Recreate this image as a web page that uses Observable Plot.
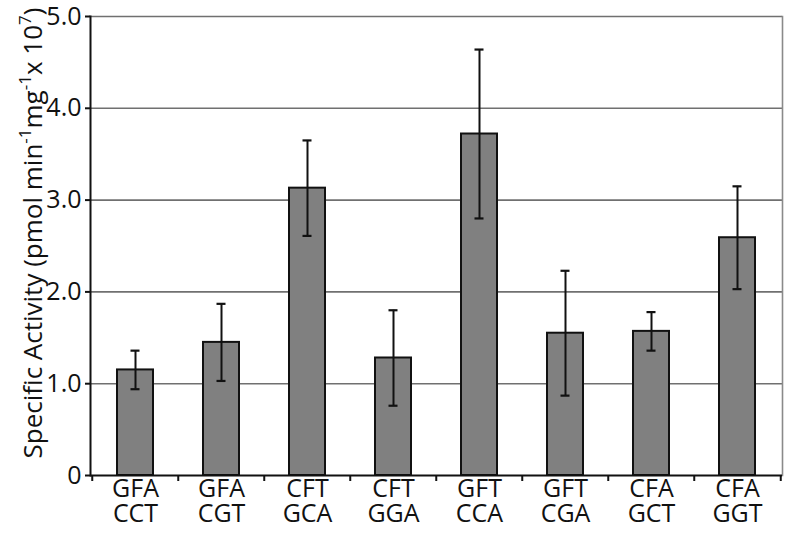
<!DOCTYPE html>
<html>
<head>
<meta charset="utf-8">
<script src="https://cdn.jsdelivr.net/npm/d3@7"></script>
<script src="https://cdn.jsdelivr.net/npm/@observablehq/plot@0.6"></script>
<style>
  html, body { margin: 0; padding: 0; background: #fff; }
  #chart svg { display: block; }
</style>
</head>
<body>
<div id="chart"></div>
<script>
// Data
const seqTop = ["GFA", "GFA", "CFT", "CFT", "GFT", "GFT", "CFA", "CFA"];
const seqBottom = ["CCT", "CGT", "GCA", "GGA", "CCA", "CGA", "GCT", "GGT"];
const activity = [1.15, 1.45, 3.13, 1.28, 3.72, 1.55, 1.57, 2.59];
const errors = [0.21, 0.42, 0.52, 0.52, 0.92, 0.68, 0.21, 0.56];
const yTicks = [0, 1, 2, 3, 4, 5];
const yTickLabels = ["0", "1.0", "2.0", "3.0", "4.0", "5.0"];

const categories = seqTop.map((t, i) => t + "\n" + seqBottom[i]);
const rows = categories.map((c, i) => ({cat: c, v: activity[i], e: errors[i]}));

const W = 800, H = 539;
const mL = 90, mR = 18, mT = 16, mB = 64;
const step = (W - mL - mR) / categories.length;
const font = "'Open Sans', 'Noto Sans', sans-serif";

const chart = Plot.plot({
  width: W,
  height: H,
  marginLeft: mL,
  marginRight: mR,
  marginTop: mT,
  marginBottom: mB,
  style: {fontFamily: font, fontSize: "24px", color: "#111", background: "#fff", overflow: "visible"},
  x: {domain: categories, paddingInner: 0.58, paddingOuter: 0.29, label: null},
  y: {domain: [0, 5], label: null},
  marks: [
    Plot.gridY(yTicks.filter(d => d > 0), {stroke: "#707070", strokeOpacity: 1, strokeWidth: 1.6}),
    Plot.frame({anchor: "right", stroke: "#8a8a8a", strokeWidth: 1.6}),
    Plot.barY(rows, {x: "cat", y: "v", fill: "#808080", stroke: "#111", strokeWidth: 2}),
    Plot.ruleX(rows, {x: "cat", y1: d => d.v - d.e, y2: d => d.v + d.e, stroke: "#111", strokeWidth: 2}),
    Plot.tickY(rows, {x: "cat", y: d => d.v - d.e, stroke: "#111", strokeWidth: 2.2, insetLeft: 13.5, insetRight: 13.5}),
    Plot.tickY(rows, {x: "cat", y: d => d.v + d.e, stroke: "#111", strokeWidth: 2.2, insetLeft: 13.5, insetRight: 13.5}),
    // category boundary ticks below the baseline
    Plot.ruleX(categories, {x: d => d, y1: 0, y2: 0, dx: -step / 2, insetBottom: -6, stroke: "#111", strokeWidth: 2}),
    Plot.ruleX(categories.slice(-1), {x: d => d, y1: 0, y2: 0, dx: step / 2, insetBottom: -6, stroke: "#111", strokeWidth: 2}),
    Plot.axisX({tickSize: 0, tickPadding: 3, lineHeight: 1.02, fontSize: 25, fill: "#111", label: null}),
    Plot.axisY({ticks: yTicks, tickFormat: d => yTickLabels[yTicks.indexOf(d)], tickSize: 5, tickPadding: 4, stroke: "#111", strokeWidth: 2, fontSize: 25, fill: "#111", label: null}),
    Plot.frame({anchor: "left", stroke: "#111", strokeWidth: 2}),
    Plot.ruleY([0], {stroke: "#111", strokeWidth: 2})
  ]
});

// Rotated y-axis title with superscripts
const svg = d3.select(chart);
const t = svg.append("text")
  .attr("transform", `translate(42, 233) rotate(-90)`)
  .attr("text-anchor", "middle")
  .attr("font-family", font)
  .attr("font-size", 26)
  .attr("fill", "#111");
t.append("tspan").text("Specific Activity (pmol min");
t.append("tspan").attr("baseline-shift", "super").attr("font-size", 17).text("-1");
t.append("tspan").text("mg");
t.append("tspan").attr("baseline-shift", "super").attr("font-size", 17).text("-1");
t.append("tspan").text("x 10");
t.append("tspan").attr("baseline-shift", "super").attr("font-size", 17).text("7");
t.append("tspan").text(")");

document.getElementById("chart").appendChild(chart);
</script>
</body>
</html>
